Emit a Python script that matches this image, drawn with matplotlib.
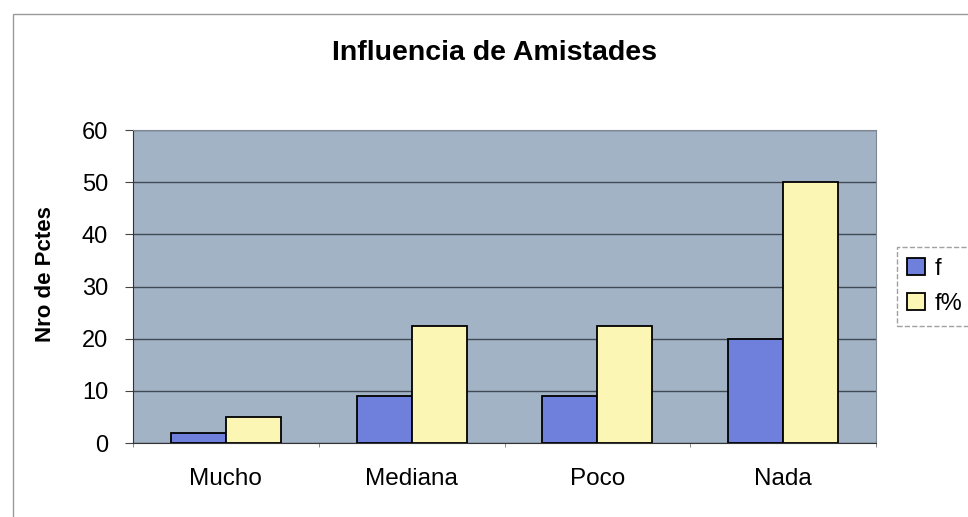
import numpy as np
import matplotlib
matplotlib.use("Agg")
import matplotlib.pyplot as plt
from matplotlib.patches import Rectangle

# Data
categories = ["Mucho", "Mediana", "Poco", "Nada"]
f_values = [2, 9, 9, 20]
fpct_values = [5, 22.5, 22.5, 50]
series_names = ["f", "f%"]
y_ticks = [0, 10, 20, 30, 40, 50, 60]

plt.rcParams['font.family'] = ['Liberation Sans', 'DejaVu Sans']

fig = plt.figure(figsize=(9.68, 5.17), dpi=100)
fig.patch.set_facecolor("white")

# light frame around the chart area
fig.add_artist(Rectangle((13 / 968, -0.05), 1.2, 1 - 14 / 517 + 0.05,
                         transform=fig.transFigure, fill=False,
                         edgecolor="#9a9a9a", linewidth=1.0))

ax = fig.add_axes([133 / 968, 74 / 517, 743 / 968, 313 / 517])
ax.set_facecolor("#a3b3c6")

x = np.arange(len(categories)) + 0.5
width = 0.296
ax.bar(x - width / 2, f_values, width, color="#6f80dc", edgecolor="black",
       linewidth=1.3, label=series_names[0], zorder=3)
ax.bar(x + width / 2, fpct_values, width, color="#fbf6b4", edgecolor="black",
       linewidth=1.3, label=series_names[1], zorder=3)

ax.set_xlim(0, len(categories))
ax.set_ylim(0, 60)
ax.set_yticks(y_ticks)
ax.set_yticklabels([str(t) for t in y_ticks], fontsize=17)
ax.yaxis.grid(True, color="#3f4a55", linewidth=1.0, zorder=1)

ax.set_xticks(x)
ax.set_xticklabels(categories, fontsize=17.5)
ax.tick_params(axis="x", length=0, pad=18)
ax.set_xticks(np.arange(len(categories) + 1), minor=True)
ax.tick_params(axis="x", which="minor", length=3, color="#777777")
ax.tick_params(axis="y", length=6, color="#444444", pad=12)

for side in ["top", "right"]:
    ax.spines[side].set_color("#7d8894")
ax.spines["left"].set_color("#333333")
ax.spines["bottom"].set_color("#333333")

ax.set_ylabel("Nro de Pctes", fontsize=16, fontweight="bold")
ax.yaxis.set_label_coords(-0.1035, 0.54)
fig.text(495 / 968, 1 - 53 / 517, "Influencia de Amistades", fontsize=20.5,
         fontweight="bold", ha="center", va="center")

leg = ax.legend(loc="center left", bbox_to_anchor=(1.028, 0.5), fontsize=17,
                frameon=True, fancybox=False, handlelength=0.75,
                handleheight=0.75, handletextpad=0.4, borderpad=0.45,
                labelspacing=0.55, borderaxespad=0)
leg.get_frame().set_edgecolor("#888888")
leg.get_frame().set_linewidth(1.0)
leg.get_frame().set_linestyle("--")

fig.savefig("out.png", dpi=100)
